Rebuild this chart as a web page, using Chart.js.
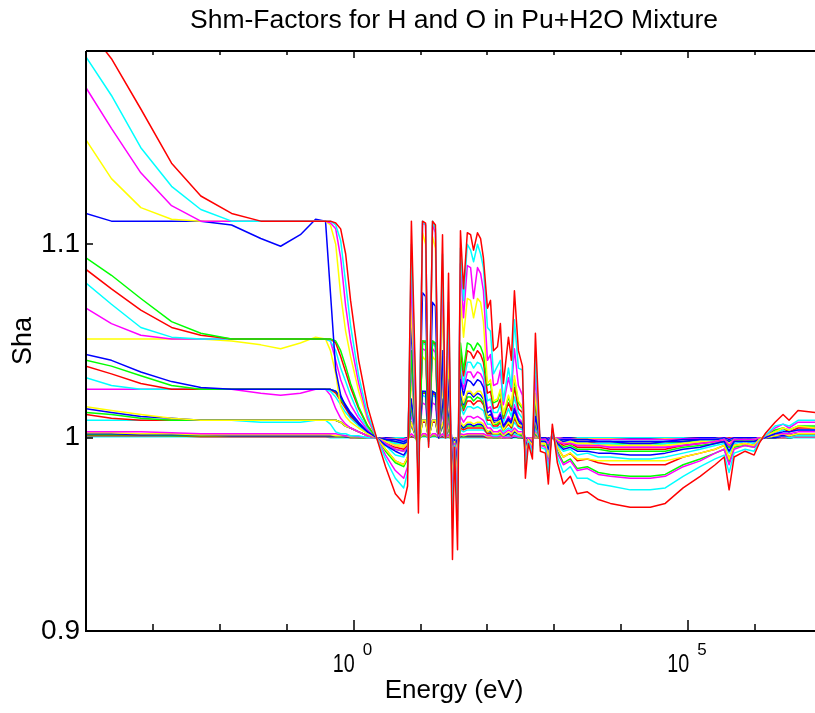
<!DOCTYPE html>
<html>
<head>
<meta charset="utf-8">
<title>Shm-Factors for H and O in Pu+H2O Mixture</title>
<script src="https://cdn.jsdelivr.net/npm/chart.js@4.4.1/dist/chart.umd.min.js"></script>
<style>
  html, body { margin: 0; padding: 0; background: #fff; overflow: hidden; }
  canvas { display: block; }
</style>
</head>
<body>
<canvas id="sha_chart" width="830" height="713"></canvas>
<script>
// energy grid (eV) shared by every curve
const energy = [1e-4, 2.4e-4, 6.6e-4, 1.9e-3, 5.2e-3, 0.015, 0.041, 0.081, 0.16, 0.27, 0.38, 0.45, 0.54, 0.64, 0.76, 0.90, 1.19, 1.62,
  2.2, 3.0, 4.2, 5.6, 6.4, 7.3, 8.4, 9.3, 10.7, 11.9, 13.2, 15.1, 16.7, 18.6, 21.3, 23.6, 26.2, 30, 32.2, 35.7,
  39.5, 43.9, 50, 56, 62, 71, 79, 87, 100, 111, 123, 141, 156, 173, 206, 228, 253, 290, 333,
  369, 409, 470, 521, 618, 734, 813, 933, 1109, 1362, 1733, 2203, 3110, 4540, 6860, 13600, 27100, 45400, 84100, 151000, 253000, 345000, 409000, 486000, 710000, 967000, 1.15e6, 1.41e6, 1.99e6, 2.62e6, 3.22e6, 4.38e6, 7.87e6, 1e7];

// group A (plateau ~1.112)
const a_red = [1.213, 1.196, 1.170, 1.142, 1.125, 1.116, 1.112, 1.112, 1.112, 1.112, 1.112, 1.112, 1.111, 1.108, 1.095, 1.071, 1.040, 1.016,
  1.000, 0.985, 0.971, 0.966, 0.975, 1.112, 1.030, 0.961, 1.112, 1.111, 0.995, 1.112, 1.110, 1.002, 1.105, 1.000, 1.085, 0.937, 0.995, 0.942,
  1.107, 1.077, 1.106, 1.105, 1.097, 1.106, 1.103, 1.093, 1.067, 1.071, 1.045, 1.047, 1.059, 1.028, 1.052, 1.040, 1.076, 1.045, 1.037,
  0.979, 0.997, 0.989, 1.054, 0.993, 0.992, 0.976, 1.007, 0.987, 0.976, 0.980, 0.971, 0.972, 0.968, 0.966, 0.964, 0.964, 0.966, 0.974, 0.980, 0.986, 0.990, 0.973, 0.990, 0.993, 0.991, 0.997, 1.002, 1.008, 1.012, 1.009, 1.014, 1.013, 1.012];
const a_cyan = [1.197, 1.177, 1.150, 1.130, 1.118, 1.112, 1.112, 1.112, 1.112, 1.112, 1.112, 1.112, 1.110, 1.102, 1.080, 1.058, 1.032, 1.012,
  1.000, 0.989, 0.979, 0.974, 0.982, 1.100, 1.025, 0.971, 1.112, 1.110, 0.996, 1.112, 1.108, 1.002, 1.095, 1.000, 1.070, 0.953, 0.996, 0.957,
  1.098, 1.071, 1.100, 1.097, 1.091, 1.100, 1.095, 1.088, 1.057, 1.055, 1.033, 1.037, 1.040, 1.019, 1.036, 1.026, 1.061, 1.036, 1.035,
  0.984, 0.998, 0.992, 1.042, 0.995, 0.994, 0.982, 1.005, 0.990, 0.982, 0.985, 0.979, 0.979, 0.976, 0.975, 0.973, 0.973, 0.974, 0.980, 0.985, 0.989, 0.991, 0.982, 0.992, 0.994, 0.993, 0.998, 1.001, 1.006, 1.007, 1.006, 1.009, 1.009, 1.009];
const a_magenta = [1.181, 1.160, 1.137, 1.120, 1.112, 1.112, 1.112, 1.112, 1.112, 1.112, 1.112, 1.111, 1.108, 1.093, 1.068, 1.050, 1.028, 1.010,
  1.000, 0.991, 0.983, 0.979, 0.985, 1.085, 1.018, 0.977, 1.111, 1.110, 0.997, 1.110, 1.106, 1.001, 1.085, 1.000, 1.060, 0.963, 0.997, 0.966,
  1.090, 1.062, 1.089, 1.088, 1.072, 1.088, 1.085, 1.076, 1.040, 1.043, 1.027, 1.028, 1.035, 1.017, 1.031, 1.024, 1.046, 1.027, 1.022,
  0.988, 0.998, 0.994, 1.032, 0.996, 0.995, 0.986, 1.004, 0.992, 0.986, 0.988, 0.983, 0.984, 0.981, 0.980, 0.979, 0.979, 0.980, 0.985, 0.988, 0.992, 0.994, 0.986, 0.994, 0.996, 0.995, 0.998, 1.001, 1.005, 1.007, 1.005, 1.008, 1.008, 1.007];
const a_yellow = [1.154, 1.134, 1.119, 1.113, 1.112, 1.112, 1.112, 1.112, 1.112, 1.112, 1.112, 1.110, 1.100, 1.074, 1.055, 1.042, 1.024, 1.009,
  1.000, 0.994, 0.988, 0.986, 0.990, 1.070, 1.012, 0.984, 1.106, 1.100, 0.998, 1.104, 1.098, 1.001, 1.070, 1.000, 1.045, 0.975, 0.998, 0.977,
  1.072, 1.052, 1.072, 1.071, 1.062, 1.072, 1.070, 1.060, 1.028, 1.030, 1.019, 1.020, 1.025, 1.012, 1.022, 1.017, 1.032, 1.019, 1.016,
  0.992, 0.999, 0.996, 1.023, 0.997, 0.997, 0.990, 1.003, 0.995, 0.990, 0.992, 0.989, 0.989, 0.988, 0.988, 0.988, 0.988, 0.988, 0.990, 0.992, 0.994, 0.996, 0.989, 0.996, 0.997, 0.996, 0.999, 1.001, 1.003, 1.005, 1.004, 1.006, 1.005, 1.005];
const a_blue = [1.116, 1.112, 1.112, 1.112, 1.112, 1.110, 1.103, 1.099, 1.105, 1.113, 1.112, 1.075, 1.035, 1.022, 1.016, 1.012, 1.007, 1.003,
  1.000, 0.996, 0.993, 0.991, 0.994, 1.060, 1.008, 0.990, 1.075, 1.073, 0.999, 1.070, 1.068, 1.000, 1.045, 1.000, 1.030, 0.984, 0.999, 0.985,
  1.030, 1.022, 1.030, 1.029, 1.027, 1.030, 1.029, 1.026, 1.013, 1.014, 1.009, 1.009, 1.012, 1.006, 1.010, 1.008, 1.015, 1.009, 1.007,
  0.995, 0.999, 0.997, 1.011, 0.998, 0.998, 0.994, 1.001, 0.997, 0.994, 0.995, 0.993, 0.993, 0.992, 0.992, 0.991, 0.991, 0.992, 0.994, 0.995, 0.997, 0.998, 0.993, 0.998, 0.998, 0.998, 0.999, 1.000, 1.002, 1.003, 1.003, 1.004, 1.004, 1.004];

// group B (plateau ~1.051)
const b_green = [1.093, 1.084, 1.072, 1.060, 1.054, 1.051, 1.051, 1.051, 1.051, 1.051, 1.051, 1.051, 1.050, 1.045, 1.037, 1.028, 1.016, 1.006,
  1.000, 0.993, 0.987, 0.985, 0.989, 1.045, 1.008, 0.983, 1.050, 1.050, 0.998, 1.050, 1.049, 1.001, 1.045, 1.000, 1.035, 0.972, 0.998, 0.974,
  1.049, 1.035, 1.049, 1.048, 1.045, 1.049, 1.047, 1.043, 1.027, 1.028, 1.018, 1.019, 1.024, 1.011, 1.021, 1.016, 1.030, 1.018, 1.015,
  0.988, 0.998, 0.994, 1.022, 0.996, 0.996, 0.987, 1.003, 0.993, 0.987, 0.989, 0.984, 0.985, 0.982, 0.981, 0.980, 0.980, 0.981, 0.986, 0.989, 0.992, 0.994, 0.987, 0.995, 0.996, 0.995, 0.998, 1.001, 1.004, 1.005, 1.004, 1.006, 1.006, 1.005];
const b_red = [1.087, 1.077, 1.066, 1.057, 1.053, 1.051, 1.051, 1.051, 1.051, 1.051, 1.051, 1.051, 1.049, 1.042, 1.034, 1.026, 1.015, 1.006,
  1.000, 0.994, 0.988, 0.986, 0.990, 1.044, 1.008, 0.986, 1.050, 1.049, 0.998, 1.050, 1.048, 1.000, 1.042, 1.000, 1.032, 0.976, 0.998, 0.978,
  1.045, 1.032, 1.045, 1.044, 1.041, 1.045, 1.043, 1.039, 1.023, 1.024, 1.015, 1.016, 1.020, 1.010, 1.018, 1.014, 1.026, 1.015, 1.013,
  0.992, 0.999, 0.996, 1.018, 0.997, 0.997, 0.990, 1.002, 0.995, 0.990, 0.992, 0.988, 0.989, 0.987, 0.986, 0.986, 0.986, 0.986, 0.990, 0.992, 0.994, 0.996, 0.989, 0.996, 0.997, 0.996, 0.999, 1.001, 1.003, 1.005, 1.003, 1.005, 1.005, 1.005];
const b_cyan = [1.080, 1.069, 1.057, 1.052, 1.051, 1.051, 1.051, 1.051, 1.051, 1.051, 1.051, 1.050, 1.045, 1.036, 1.029, 1.022, 1.012, 1.005,
  1.000, 0.996, 0.991, 0.990, 0.993, 1.040, 1.006, 0.990, 1.049, 1.048, 0.999, 1.049, 1.047, 1.000, 1.038, 1.000, 1.028, 0.981, 0.999, 0.983,
  1.040, 1.028, 1.039, 1.039, 1.036, 1.039, 1.038, 1.034, 1.019, 1.020, 1.013, 1.013, 1.017, 1.008, 1.015, 1.011, 1.021, 1.013, 1.010,
  0.994, 0.999, 0.997, 1.015, 0.998, 0.998, 0.993, 1.002, 0.996, 0.993, 0.994, 0.991, 0.992, 0.990, 0.990, 0.989, 0.989, 0.990, 0.992, 0.994, 0.996, 0.997, 0.992, 0.997, 0.998, 0.997, 0.999, 1.001, 1.002, 1.004, 1.003, 1.004, 1.004, 1.004];
const b_magenta = [1.067, 1.059, 1.053, 1.051, 1.051, 1.051, 1.051, 1.051, 1.051, 1.051, 1.051, 1.050, 1.040, 1.030, 1.023, 1.017, 1.010, 1.004,
  1.000, 0.997, 0.994, 0.993, 0.995, 1.036, 1.005, 0.993, 1.046, 1.045, 0.999, 1.046, 1.044, 1.000, 1.034, 1.000, 1.024, 0.988, 0.999, 0.989,
  1.034, 1.025, 1.034, 1.034, 1.031, 1.034, 1.033, 1.030, 1.015, 1.016, 1.010, 1.010, 1.013, 1.006, 1.011, 1.009, 1.017, 1.010, 1.008,
  0.997, 1.000, 0.998, 1.012, 0.999, 0.999, 0.997, 1.001, 0.998, 0.997, 0.997, 0.996, 0.996, 0.996, 0.995, 0.995, 0.995, 0.995, 0.996, 0.997, 0.998, 0.999, 0.996, 0.999, 0.999, 0.999, 1.000, 1.000, 1.002, 1.002, 1.002, 1.003, 1.003, 1.002];
const b_yellow = [1.051, 1.051, 1.051, 1.051, 1.051, 1.050, 1.048, 1.046, 1.049, 1.052, 1.051, 1.045, 1.033, 1.016, 1.011, 1.008, 1.005, 1.002,
  1.000, 0.998, 0.996, 0.995, 0.997, 1.030, 1.004, 0.995, 1.042, 1.040, 1.000, 1.042, 1.040, 1.000, 1.028, 1.000, 1.020, 0.991, 1.000, 0.992,
  1.025, 1.018, 1.024, 1.024, 1.022, 1.024, 1.024, 1.021, 1.011, 1.011, 1.007, 1.008, 1.009, 1.004, 1.008, 1.006, 1.012, 1.007, 1.006,
  0.998, 1.000, 0.999, 1.009, 0.999, 0.999, 0.997, 1.001, 0.999, 0.997, 0.998, 0.997, 0.997, 0.996, 0.996, 0.996, 0.996, 0.996, 0.997, 0.998, 0.998, 0.999, 0.997, 0.999, 0.999, 0.999, 1.000, 1.000, 1.001, 1.002, 1.001, 1.002, 1.002, 1.002];

// group C (plateau ~1.025)
const c_blue = [1.043, 1.040, 1.034, 1.029, 1.026, 1.025, 1.025, 1.025, 1.025, 1.025, 1.025, 1.025, 1.024, 1.021, 1.017, 1.013, 1.008, 1.003,
  1.000, 0.999, 0.998, 0.997, 0.998, 1.020, 1.003, 0.997, 1.024, 1.024, 1.000, 1.024, 1.023, 1.000, 1.020, 1.000, 1.016, 0.996, 1.000, 0.996,
  1.023, 1.017, 1.023, 1.023, 1.021, 1.023, 1.022, 1.020, 1.011, 1.012, 1.008, 1.008, 1.010, 1.005, 1.009, 1.007, 1.013, 1.008, 1.006,
  0.999, 1.000, 0.999, 1.009, 1.000, 0.999, 0.998, 1.001, 0.999, 0.998, 0.999, 0.998, 0.998, 0.998, 0.998, 0.997, 0.997, 0.998, 0.998, 0.999, 0.999, 0.999, 0.998, 0.999, 1.000, 0.999, 1.000, 1.000, 1.001, 1.001, 1.001, 1.002, 1.002, 1.001];
const c_green = [1.040, 1.037, 1.032, 1.027, 1.025, 1.025, 1.025, 1.025, 1.025, 1.025, 1.025, 1.025, 1.024, 1.020, 1.016, 1.012, 1.007, 1.003,
  1.000, 0.997, 0.994, 0.993, 0.995, 1.018, 1.003, 0.992, 1.024, 1.023, 0.999, 1.024, 1.023, 1.000, 1.019, 1.000, 1.015, 0.988, 0.999, 0.989,
  1.021, 1.015, 1.021, 1.021, 1.019, 1.021, 1.020, 1.018, 1.010, 1.011, 1.007, 1.007, 1.009, 1.004, 1.008, 1.006, 1.011, 1.007, 1.006,
  0.996, 0.999, 0.998, 1.008, 0.999, 0.998, 0.995, 1.001, 0.997, 0.995, 0.996, 0.994, 0.994, 0.994, 0.993, 0.993, 0.993, 0.993, 0.995, 0.996, 0.997, 0.998, 0.995, 0.998, 0.999, 0.998, 0.999, 1.000, 1.001, 1.002, 1.001, 1.002, 1.002, 1.002];
const c_red = [1.037, 1.033, 1.028, 1.025, 1.025, 1.025, 1.025, 1.025, 1.025, 1.025, 1.025, 1.025, 1.023, 1.019, 1.015, 1.011, 1.007, 1.003,
  1.000, 0.997, 0.995, 0.994, 0.996, 1.017, 1.003, 0.993, 1.023, 1.023, 0.999, 1.023, 1.022, 1.000, 1.018, 1.000, 1.014, 0.989, 0.999, 0.990,
  1.019, 1.014, 1.019, 1.019, 1.017, 1.019, 1.019, 1.017, 1.009, 1.009, 1.006, 1.006, 1.008, 1.004, 1.007, 1.005, 1.010, 1.006, 1.005,
  0.996, 0.999, 0.998, 1.007, 0.999, 0.999, 0.996, 1.001, 0.998, 0.996, 0.997, 0.995, 0.995, 0.995, 0.994, 0.994, 0.994, 0.994, 0.996, 0.997, 0.998, 0.998, 0.995, 0.998, 0.999, 0.998, 1.000, 1.000, 1.001, 1.002, 1.001, 1.002, 1.002, 1.002];
const c_cyan = [1.031, 1.027, 1.025, 1.025, 1.025, 1.025, 1.025, 1.025, 1.025, 1.025, 1.025, 1.024, 1.021, 1.017, 1.013, 1.010, 1.006, 1.002,
  1.000, 0.998, 0.997, 0.997, 0.998, 1.015, 1.002, 0.996, 1.022, 1.021, 1.000, 1.022, 1.021, 1.000, 1.016, 1.000, 1.012, 0.994, 1.000, 0.994,
  1.016, 1.012, 1.016, 1.016, 1.015, 1.016, 1.015, 1.014, 1.007, 1.007, 1.005, 1.005, 1.006, 1.003, 1.005, 1.004, 1.008, 1.005, 1.004,
  0.998, 1.000, 0.999, 1.005, 0.999, 0.999, 0.998, 1.001, 0.999, 0.998, 0.998, 0.997, 0.997, 0.997, 0.997, 0.996, 0.996, 0.997, 0.997, 0.998, 0.999, 0.999, 0.997, 0.999, 0.999, 0.999, 1.000, 1.000, 1.001, 1.001, 1.001, 1.001, 1.001, 1.001];
const c_magenta = [1.025, 1.025, 1.025, 1.025, 1.025, 1.025, 1.023, 1.022, 1.023, 1.025, 1.025, 1.022, 1.015, 1.010, 1.007, 1.005, 1.003, 1.001,
  1.000, 0.998, 0.996, 0.995, 0.997, 1.012, 1.002, 0.995, 1.018, 1.017, 1.000, 1.018, 1.017, 1.000, 1.013, 1.000, 1.010, 0.991, 1.000, 0.992,
  1.011, 1.008, 1.011, 1.011, 1.010, 1.011, 1.010, 1.009, 1.005, 1.005, 1.003, 1.003, 1.004, 1.002, 1.004, 1.003, 1.005, 1.003, 1.003,
  0.997, 1.000, 0.998, 1.004, 0.999, 0.999, 0.997, 1.000, 0.998, 0.997, 0.997, 0.996, 0.996, 0.996, 0.995, 0.995, 0.995, 0.995, 0.996, 0.997, 0.998, 0.999, 0.996, 0.999, 0.999, 0.999, 1.000, 1.000, 1.001, 1.001, 1.001, 1.001, 1.001, 1.001];

// group D (plateau ~1.009)
const d_yellow = [1.016, 1.014, 1.012, 1.010, 1.009, 1.009, 1.009, 1.009, 1.009, 1.009, 1.009, 1.009, 1.009, 1.008, 1.006, 1.005, 1.003, 1.001,
  1.000, 0.998, 0.997, 0.996, 0.997, 1.008, 1.001, 0.995, 1.009, 1.009, 0.999, 1.009, 1.009, 1.000, 1.008, 1.000, 1.007, 0.992, 0.999, 0.993,
  1.008, 1.006, 1.008, 1.008, 1.007, 1.008, 1.008, 1.007, 1.003, 1.004, 1.002, 1.002, 1.003, 1.001, 1.003, 1.002, 1.004, 1.002, 1.002,
  0.997, 1.000, 0.999, 1.003, 0.999, 0.999, 0.997, 1.000, 0.998, 0.997, 0.998, 0.997, 0.997, 0.996, 0.996, 0.996, 0.996, 0.996, 0.997, 0.998, 0.998, 0.999, 0.997, 0.999, 0.999, 0.999, 1.000, 1.000, 1.001, 1.001, 1.001, 1.001, 1.001, 1.001];
const d_blue = [1.015, 1.013, 1.011, 1.010, 1.009, 1.009, 1.009, 1.009, 1.009, 1.009, 1.009, 1.009, 1.009, 1.008, 1.006, 1.005, 1.003, 1.001,
  1.000, 0.999, 0.999, 0.998, 0.999, 1.008, 1.001, 0.998, 1.009, 1.009, 1.000, 1.009, 1.009, 1.000, 1.007, 1.000, 1.006, 0.997, 1.000, 0.997,
  1.007, 1.005, 1.007, 1.007, 1.006, 1.007, 1.007, 1.006, 1.003, 1.003, 1.002, 1.002, 1.003, 1.001, 1.002, 1.002, 1.003, 1.002, 1.002,
  0.999, 1.000, 0.999, 1.003, 1.000, 1.000, 0.999, 1.000, 0.999, 0.999, 0.999, 0.999, 0.999, 0.998, 0.998, 0.998, 0.998, 0.998, 0.999, 0.999, 0.999, 1.000, 0.999, 1.000, 1.000, 1.000, 1.000, 1.000, 1.000, 1.001, 1.001, 1.001, 1.001, 1.001];
const d_green = [1.013, 1.012, 1.010, 1.009, 1.009, 1.009, 1.009, 1.009, 1.009, 1.009, 1.009, 1.009, 1.009, 1.008, 1.006, 1.005, 1.003, 1.001,
  1.000, 0.999, 0.997, 0.997, 0.998, 1.008, 1.001, 0.996, 1.009, 1.009, 1.000, 1.009, 1.009, 1.000, 1.007, 1.000, 1.006, 0.994, 1.000, 0.995,
  1.006, 1.005, 1.006, 1.006, 1.006, 1.006, 1.006, 1.006, 1.003, 1.003, 1.002, 1.002, 1.002, 1.001, 1.002, 1.002, 1.003, 1.002, 1.001,
  0.998, 1.000, 0.999, 1.002, 0.999, 0.999, 0.998, 1.000, 0.999, 0.998, 0.998, 0.997, 0.997, 0.997, 0.997, 0.997, 0.997, 0.997, 0.998, 0.998, 0.999, 0.999, 0.998, 0.999, 0.999, 0.999, 1.000, 1.000, 1.000, 1.001, 1.001, 1.001, 1.001, 1.001];
const d_red = [1.012, 1.010, 1.009, 1.009, 1.009, 1.009, 1.009, 1.009, 1.009, 1.009, 1.009, 1.009, 1.009, 1.008, 1.006, 1.005, 1.003, 1.001,
  1.000, 0.999, 0.997, 0.997, 0.998, 1.007, 1.001, 0.997, 1.008, 1.008, 1.000, 1.008, 1.008, 1.000, 1.007, 1.000, 1.005, 0.995, 1.000, 0.995,
  1.005, 1.004, 1.005, 1.005, 1.005, 1.005, 1.005, 1.005, 1.002, 1.002, 1.002, 1.002, 1.002, 1.001, 1.002, 1.001, 1.003, 1.002, 1.001,
  0.998, 1.000, 0.999, 1.002, 0.999, 0.999, 0.998, 1.000, 0.999, 0.998, 0.998, 0.998, 0.998, 0.997, 0.997, 0.997, 0.997, 0.997, 0.998, 0.998, 0.999, 0.999, 0.998, 0.999, 0.999, 0.999, 1.000, 1.000, 1.000, 1.001, 1.001, 1.001, 1.001, 1.001];
const d_cyan = [1.009, 1.009, 1.009, 1.009, 1.009, 1.009, 1.008, 1.008, 1.008, 1.009, 1.009, 1.007, 1.003, 1.002, 1.002, 1.001, 1.001, 1.000,
  1.000, 0.999, 0.998, 0.998, 0.999, 1.006, 1.001, 0.997, 1.008, 1.008, 1.000, 1.008, 1.008, 1.000, 1.006, 1.000, 1.004, 0.996, 1.000, 0.996,
  1.004, 1.003, 1.004, 1.004, 1.004, 1.004, 1.004, 1.004, 1.002, 1.002, 1.001, 1.001, 1.002, 1.001, 1.001, 1.001, 1.002, 1.001, 1.001,
  0.999, 1.000, 0.999, 1.002, 1.000, 0.999, 0.999, 1.000, 0.999, 0.999, 0.999, 0.998, 0.998, 0.998, 0.998, 0.998, 0.998, 0.998, 0.998, 0.999, 0.999, 0.999, 0.998, 0.999, 1.000, 1.000, 1.000, 1.000, 1.000, 1.001, 1.000, 1.001, 1.001, 1.001];

// group E (close to 1)
const e_magenta = [1.003, 1.003, 1.003, 1.0025, 1.002, 1.002, 1.002, 1.002, 1.002, 1.002, 1.002, 1.002, 1.002, 1.0015, 1.001, 1.001, 1.0005, 1.000,
  1.000, 0.9995, 0.999, 0.999, 0.9995, 1.002, 1.000, 0.999, 1.002, 1.002, 1.000, 1.002, 1.002, 1.000, 1.002, 1.000, 1.0015, 0.998, 1.000, 0.998,
  1.002, 1.0015, 1.002, 1.002, 1.002, 1.002, 1.002, 1.002, 1.001, 1.001, 1.0005, 1.0005, 1.001, 1.000, 1.0005, 1.0005, 1.001, 1.0005, 1.0005,
  0.9995, 1.000, 1.000, 1.001, 1.000, 1.000, 0.9995, 1.000, 1.000, 0.9995, 0.9995, 0.999, 0.999, 0.999, 0.999, 0.999, 0.999, 0.999, 0.9995, 0.9995, 0.9995, 1.000, 0.9995, 1.000, 1.000, 1.000, 1.000, 1.000, 1.000, 1.0005, 1.0005, 1.0005, 1.0005, 1.0005];
const e_yellow = [1.0025, 1.0025, 1.002, 1.002, 1.0015, 1.0015, 1.0015, 1.0015, 1.0015, 1.0015, 1.0015, 1.0015, 1.001, 1.001, 1.001, 1.0005, 1.0005, 1.000,
  1.000, 0.9995, 0.9995, 0.999, 0.9995, 1.0015, 1.000, 0.999, 1.0015, 1.0015, 1.000, 1.0015, 1.0015, 1.000, 1.0015, 1.000, 1.001, 0.9985, 1.000, 0.9985,
  1.0015, 1.001, 1.0015, 1.0015, 1.0015, 1.0015, 1.0015, 1.0015, 1.0005, 1.0005, 1.0005, 1.0005, 1.0005, 1.000, 1.0005, 1.0005, 1.001, 1.0005, 1.0005,
  0.9995, 1.000, 1.000, 1.0005, 1.000, 1.000, 0.9995, 1.000, 1.000, 0.9995, 0.9995, 0.9995, 0.9995, 0.9995, 0.9995, 0.999, 0.999, 0.9995, 0.9995, 0.9995, 0.9995, 1.000, 0.9995, 1.000, 1.000, 1.000, 1.000, 1.000, 1.000, 1.0005, 1.0005, 1.0005, 1.0005, 1.0005];
const e_blue = [1.002, 1.002, 1.0015, 1.0015, 1.0015, 1.001, 1.001, 1.001, 1.001, 1.001, 1.001, 1.001, 1.001, 1.001, 1.0005, 1.0005, 1.0005, 1.000,
  1.000, 1.000, 0.9995, 0.9995, 1.000, 1.001, 1.000, 0.9995, 1.0015, 1.0015, 1.000, 1.0015, 1.0015, 1.000, 1.001, 1.000, 1.001, 0.999, 1.000, 0.999,
  1.001, 1.001, 1.001, 1.001, 1.001, 1.001, 1.001, 1.001, 1.0005, 1.0005, 1.0005, 1.0005, 1.0005, 1.000, 1.0005, 1.000, 1.0005, 1.0005, 1.000,
  1.000, 1.000, 1.000, 1.0005, 1.000, 1.000, 1.000, 1.000, 1.000, 1.000, 1.000, 0.9995, 0.9995, 0.9995, 0.9995, 0.9995, 0.9995, 0.9995, 0.9995, 1.000, 1.000, 1.000, 0.9995, 1.000, 1.000, 1.000, 1.000, 1.000, 1.000, 1.0005, 1.000, 1.0005, 1.0005, 1.0005];
const e_green = [1.0015, 1.0015, 1.0015, 1.001, 1.001, 1.001, 1.001, 1.001, 1.001, 1.001, 1.001, 1.001, 1.001, 1.0005, 1.0005, 1.0005, 1.000, 1.000,
  1.000, 0.9995, 0.9995, 0.9995, 0.9995, 1.001, 1.000, 0.9995, 1.001, 1.001, 1.000, 1.001, 1.001, 1.000, 1.001, 1.000, 1.001, 0.999, 1.000, 0.999,
  1.001, 1.0005, 1.001, 1.001, 1.001, 1.001, 1.001, 1.001, 1.0005, 1.0005, 1.000, 1.000, 1.0005, 1.000, 1.0005, 1.000, 1.0005, 1.000, 1.000,
  1.000, 1.000, 1.000, 1.0005, 1.000, 1.000, 1.000, 1.000, 1.000, 1.000, 1.000, 0.9995, 0.9995, 0.9995, 0.9995, 0.9995, 0.9995, 0.9995, 0.9995, 0.9995, 1.000, 1.000, 0.9995, 1.000, 1.000, 1.000, 1.000, 1.000, 1.000, 1.0005, 1.000, 1.0005, 1.0005, 1.000];
const e_red = [1.001, 1.001, 1.001, 1.001, 1.0005, 1.0005, 1.0005, 1.0005, 1.0005, 1.0005, 1.0005, 1.0005, 1.0005, 1.0005, 1.0005, 1.000, 1.000, 1.000,
  1.000, 1.000, 0.9995, 0.9995, 1.000, 1.0005, 1.000, 0.9995, 1.001, 1.001, 1.000, 1.001, 1.001, 1.000, 1.0005, 1.000, 1.0005, 0.9995, 1.000, 0.9995,
  1.0005, 1.0005, 1.0005, 1.0005, 1.0005, 1.0005, 1.0005, 1.0005, 1.000, 1.000, 1.000, 1.000, 1.000, 1.000, 1.000, 1.000, 1.0005, 1.000, 1.000,
  1.000, 1.000, 1.000, 1.000, 1.000, 1.000, 1.000, 1.000, 1.000, 1.000, 1.000, 0.9995, 0.9995, 0.9995, 0.9995, 0.9995, 0.9995, 0.9995, 0.9995, 1.000, 1.000, 1.000, 1.000, 1.000, 1.000, 1.000, 1.000, 1.000, 1.000, 1.000, 1.000, 1.0005, 1.0005, 1.0005];
const e_cyan = [1.0005, 1.0005, 1.0005, 1.0005, 1.0005, 1.0005, 1.0005, 1.0005, 1.0005, 1.0005, 1.0005, 1.000, 1.000, 1.000, 1.000, 1.000, 1.000, 1.000,
  1.000, 1.000, 1.000, 1.000, 1.000, 1.0005, 1.000, 1.000, 1.0005, 1.0005, 1.000, 1.0005, 1.0005, 1.000, 1.000, 1.000, 1.000, 0.9995, 1.000, 0.9995,
  1.000, 1.000, 1.000, 1.000, 1.000, 1.000, 1.000, 1.000, 1.000, 1.000, 1.000, 1.000, 1.000, 1.000, 1.000, 1.000, 1.000, 1.000, 1.000,
  1.000, 1.000, 1.000, 1.000, 1.000, 1.000, 1.000, 1.000, 1.000, 1.000, 1.000, 1.000, 1.000, 1.000, 1.000, 1.000, 1.000, 1.000, 1.000, 1.000, 1.000, 1.000, 1.000, 1.000, 1.000, 1.000, 1.000, 1.000, 1.000, 1.000, 1.000, 1.000, 1.000, 1.000];

// first one in the list is drawn on top
const series = [
  [a_red, '#ff0000'], [a_cyan, '#00ffff'], [a_magenta, '#ff00ff'], [a_yellow, '#ffff00'], [a_blue, '#0000ff'],
  [b_green, '#00ff00'], [b_red, '#ff0000'], [b_cyan, '#00ffff'], [b_magenta, '#ff00ff'], [b_yellow, '#ffff00'],
  [c_blue, '#0000ff'], [c_green, '#00ff00'], [c_red, '#ff0000'], [c_cyan, '#00ffff'], [c_magenta, '#ff00ff'],
  [d_yellow, '#ffff00'], [d_blue, '#0000ff'], [d_green, '#00ff00'], [d_red, '#ff0000'], [d_cyan, '#00ffff'],
  [e_magenta, '#ff00ff'], [e_yellow, '#ffff00'], [e_blue, '#0000ff'], [e_green, '#00ff00'], [e_red, '#ff0000'], [e_cyan, '#00ffff']
];

const x_label_exponents = [0, 5];
const font_family = "'Liberation Sans', Arial, Helvetica, sans-serif";

let datasets = series.map(function (s) {
  if (s[0].length !== energy.length) console.log('length mismatch', s[0].length);
  return {
    data: energy.map((e, i) => ({ x: e, y: s[0][i] })),
    borderColor: s[1],
    borderWidth: 1.5,
    pointRadius: 0,
    fill: false,
    tension: 0,
    borderJoinStyle: 'round'
  };
});

// MATLAB-like box with inward ticks and 10^n labels
const axis_box = {
  id: 'axis_box',
  afterDraw(chart) {
    const { ctx, chartArea: a, scales } = chart;
    const x = scales.x, y = scales.y;
    ctx.save();
    ctx.strokeStyle = '#000';
    ctx.lineWidth = 2;
    ctx.beginPath();
    ctx.moveTo(a.left, a.top); ctx.lineTo(a.right, a.top);
    ctx.moveTo(a.left, a.top); ctx.lineTo(a.left, a.bottom); ctx.lineTo(a.right, a.bottom);
    ctx.stroke();

    ctx.lineWidth = 1.5;
    ctx.beginPath();
    for (let k = -4; k <= 7; k++) {
      const px = Math.round(x.getPixelForValue(Math.pow(10, k)));
      const major = k % 5 === 0;
      ctx.moveTo(px, a.bottom); ctx.lineTo(px, a.bottom - (major ? 11 : 7));
      ctx.moveTo(px, a.top); ctx.lineTo(px, a.top + (major ? 7 : 4));
    }
    y.ticks.forEach(t => {
      const py = Math.round(y.getPixelForValue(t.value));
      ctx.moveTo(a.left, py); ctx.lineTo(a.left + 7, py);
    });
    ctx.stroke();

    // "10" is drawn a bit narrow, as in the original figure
    ctx.fillStyle = '#000';
    ctx.textBaseline = 'alphabetic';
    ctx.textAlign = 'left';
    x_label_exponents.forEach(k => {
      const px = x.getPixelForValue(Math.pow(10, k));
      ctx.save();
      ctx.translate(px - 21, a.bottom + 41);
      ctx.scale(0.76, 1);
      ctx.font = '26px ' + font_family;
      ctx.fillText('10', 0, 0);
      ctx.restore();
      ctx.font = '17px ' + font_family;
      ctx.fillText(String(k), px + 9, a.bottom + 24);
    });
    ctx.restore();
  }
};

let sha_chart = new Chart(document.getElementById('sha_chart').getContext('2d'), {
  type: 'line',
  data: { datasets: datasets },
  options: {
    responsive: false,
    animation: false,
    events: [],
    layout: { padding: { left: 0, right: 8, top: 0, bottom: 0 } },
    plugins: {
      legend: { display: false },
      tooltip: { enabled: false },
      title: {
        display: true,
        fullSize: false,
        text: 'Shm-Factors for H and O in Pu+H2O Mixture',
        color: '#000',
        font: { family: font_family, size: 26.5, weight: 'normal' },
        padding: { top: 5, bottom: 14.2 }
      }
    },
    scales: {
      x: {
        type: 'logarithmic',
        min: 1e-4,
        max: 1e7,
        grid: { display: false, drawTicks: false },
        border: { display: false },
        ticks: { display: false },
        title: {
          display: true,
          text: 'Energy (eV)',
          color: '#000',
          font: { family: font_family, size: 26, weight: 'normal' },
          padding: { top: 0, bottom: 7 }
        },
        afterFit: function (scale) { scale.height = 82; }
      },
      y: {
        min: 0.9,
        max: 1.2,
        grid: { display: false, drawTicks: false },
        border: { display: false },
        ticks: {
          stepSize: 0.1,
          padding: 6,
          color: '#000',
          font: { family: font_family, size: 28 },
          callback: function (v) {
            if (Math.abs(v - 1.2) < 1e-6) return '';
            return String(Math.round(v * 10) / 10);
          }
        },
        title: {
          display: true,
          text: 'Sha',
          color: '#000',
          font: { family: font_family, size: 27, weight: 'normal' },
          padding: { top: 7, bottom: 0 }
        },
        afterFit: function (scale) { scale.width = 86; }
      }
    }
  },
  plugins: [axis_box]
});
</script>
</body>
</html>
